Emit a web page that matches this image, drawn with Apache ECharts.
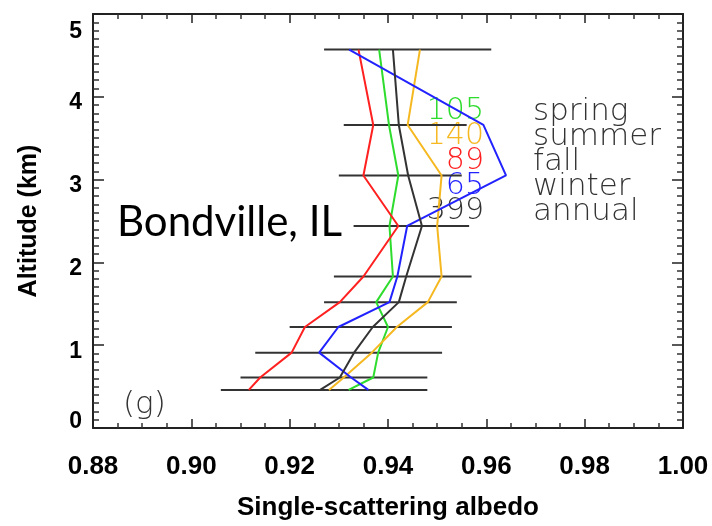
<!DOCTYPE html>
<html>
<head>
<meta charset="utf-8">
<script src="https://cdn.jsdelivr.net/npm/echarts@6/dist/echarts.min.js"></script>
<style>
  html, body { margin: 0; padding: 0; background: #fff; }
  #chart { width: 712px; height: 526px; }
</style>
</head>
<body>
<div id="chart"></div>
<script>
// altitude levels (km)
var altitudes = [0.46, 0.61, 0.91, 1.22, 1.52, 1.83, 2.44, 3.05, 3.66, 4.57];
// horizontal range bars at each level
var rangeLow  = [0.906, 0.910, 0.913, 0.920, 0.927, 0.929, 0.933, 0.930, 0.931, 0.927];
var rangeHigh = [0.948, 0.948, 0.951, 0.953, 0.954, 0.957, 0.9565, 0.955, 0.956, 0.961];
// single-scattering albedo per season
var spring = [0.932, 0.937, 0.938, 0.940, 0.9376, 0.941, 0.9403, 0.9421, 0.9402, 0.9382];
var summer = [0.928, 0.931, 0.9367, 0.9418, 0.9481, 0.9509, 0.950, 0.9509, 0.944, 0.9465];
var fall   = [0.9117, 0.914, 0.9204, 0.9231, 0.9302, 0.935, 0.9421, 0.935, 0.937, 0.934];
var winter = [0.936, 0.9325, 0.926, 0.9299, 0.9403, 0.9419, 0.9439, 0.964, 0.9594, 0.9321];
var annual = [0.9262, 0.9302, 0.9331, 0.9369, 0.9422, 0.9437, 0.9469, 0.9441, 0.9422, 0.941];

var seasonNames = ['spring', 'summer', 'fall', 'winter', 'annual'];
var seasonCounts = [105, 140, 89, 65, 399];
var seasonColors = ['#2edc2e', '#f5b820', '#ff2020', '#2222ff', '#333333'];
var seasonData = [spring, summer, fall, winter, annual];

(function() {
    var myChart = echarts.init(document.getElementById('chart'));

    function pairs(vals) {
        return vals.map(function(v, i) { return [v, altitudes[i]]; });
    }

    var frameLine = { show: true, onZero: false, lineStyle: { color: '#222', width: 2 } };
    var hiddenLabel = { show: false };

    var series = [{
        type: 'custom',
        name: 'range',
        silent: true,
        z: 1,
        data: altitudes.map(function(a, i) { return [rangeLow[i], rangeHigh[i], a]; }),
        renderItem: function(params, api) {
            var p1 = api.coord([api.value(0), api.value(2)]);
            var p2 = api.coord([api.value(1), api.value(2)]);
            return {
                type: 'line',
                shape: { x1: p1[0], y1: p1[1], x2: p2[0], y2: p2[1] },
                style: { stroke: '#333', lineWidth: 2 }
            };
        }
    }];

    seasonData.forEach(function(d, i) {
        series.push({
            type: 'line',
            name: seasonNames[i],
            data: pairs(d),
            showSymbol: false,
            z: 3,
            lineStyle: { color: seasonColors[i], width: 2 },
            itemStyle: { color: seasonColors[i] }
        });
    });

    // season counts and names
    var texts = [];
    seasonNames.forEach(function(n, i) {
        var y = 111 + i * 25;
        texts.push({
            type: 'text', x: 484, y: y,
            style: { text: String(seasonCounts[i]), fill: seasonColors[i], align: 'right', verticalAlign: 'middle',
                     font: '200 30px "DejaVu Sans"' }
        });
        texts.push({
            type: 'text', x: 533, y: y + 1,
            style: { text: n, fill: '#333', align: 'left', verticalAlign: 'middle',
                     font: '200 31px "DejaVu Sans"' }
        });
    });
    texts.push({
        type: 'text', x: 123, y: 405,
        style: { text: '(g)', fill: '#333', align: 'left', verticalAlign: 'middle', font: '200 31px "DejaVu Sans"' }
    });
    texts.push({
        type: 'text', x: 117, y: 222,
        style: { text: 'Bondville, IL', fill: '#000', align: 'left', verticalAlign: 'middle', font: '42px Lato' }
    });

    var option = {
        animation: false,
        grid: { left: 93, right: 29, top: 14, bottom: 96 },
        xAxis: [{
            type: 'value', position: 'bottom', min: 0.88, max: 1.00, interval: 0.02,
            name: 'Single-scattering albedo', nameLocation: 'middle', nameGap: 67,
            nameTextStyle: { fontFamily: 'Liberation Sans', fontWeight: 'bold', fontSize: 26, color: '#000' },
            axisLine: frameLine,
            axisTick: { show: true, inside: true, length: 9, lineStyle: { color: '#222', width: 1.5 } },
            minorTick: { show: true, splitNumber: 4, length: 5, lineStyle: { color: '#333', width: 1.5 } },
            axisLabel: { margin: 26, fontFamily: 'Liberation Sans', fontWeight: 'bold', fontSize: 26, color: '#000',
                         formatter: function(v) { return v.toFixed(2); } },
            splitLine: { show: false }
        }, {
            type: 'value', position: 'top', min: 0.88, max: 1.00, interval: 0.02,
            axisLine: frameLine,
            axisTick: { show: true, inside: true, length: 9, lineStyle: { color: '#222', width: 1.5 } },
            minorTick: { show: true, splitNumber: 4, length: 5, lineStyle: { color: '#333', width: 1.5 } },
            axisLabel: hiddenLabel,
            splitLine: { show: false }
        }],
        yAxis: [{
            type: 'value', position: 'left', min: 0, max: 5, interval: 1,
            name: 'Altitude (km)', nameLocation: 'middle', nameGap: 51, nameRotate: 90,
            nameTextStyle: { fontFamily: 'Liberation Sans', fontWeight: 'bold', fontSize: 25, color: '#000' },
            axisLine: frameLine,
            axisTick: { show: true, inside: true, length: 11, lineStyle: { color: '#222', width: 1.5 } },
            minorTick: { show: true, splitNumber: 10, length: 6, lineStyle: { color: '#333', width: 1.5 } },
            axisLabel: { margin: 11, fontFamily: 'Liberation Sans', fontWeight: 'bold', fontSize: 23, color: '#000',
                         lineHeight: 12,
                         formatter: function(v) { return '\n' + v; },
                         verticalAlignMinLabel: 'bottom', verticalAlignMaxLabel: 'top' },
            splitLine: { show: false }
        }, {
            type: 'value', position: 'right', min: 0, max: 5, interval: 1,
            axisLine: frameLine,
            axisTick: { show: true, inside: true, length: 11, lineStyle: { color: '#222', width: 1.5 } },
            minorTick: { show: true, splitNumber: 10, length: 6, lineStyle: { color: '#333', width: 1.5 } },
            axisLabel: hiddenLabel,
            splitLine: { show: false }
        }],
        graphic: texts,
        series: series
    };

    myChart.setOption(option);
    window.addEventListener("resize", function() {
      myChart.resize();
    });
})();
</script>
</body>
</html>
